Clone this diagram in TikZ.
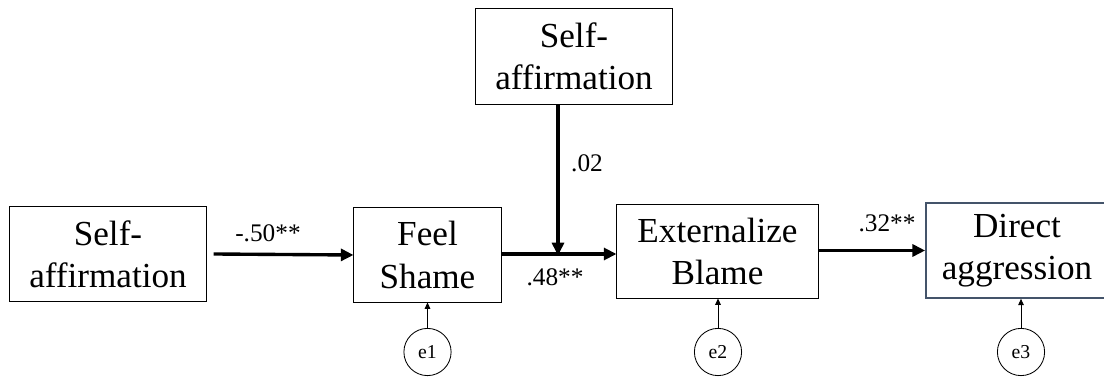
\documentclass[tikz,border=0pt]{standalone}
\usepackage{fontspec}
\setmainfont{Liberation Serif}
\usetikzlibrary{arrows.meta}
\usetikzlibrary{positioning}

\definecolor{slateedge}{RGB}{68,84,106}

\tikzset{
  varbox/.style={draw,line width=0.7pt,align=center,inner sep=0pt,font=\fontsize{25}{30}\selectfont},
  pathline/.style={line width=2.4pt,-{Triangle[length=9pt,width=8.5pt]}},
  errline/.style={line width=0.6pt,-{Triangle[length=4.5pt,width=4pt]}},
  errnode/.style={draw,circle,line width=0.6pt,minimum size=1.18cm,inner sep=0pt,font=\fontsize{14}{16}\selectfont},
  coef/.style={font=\fontsize{18}{20}\selectfont}
}

\begin{document}
\begin{tikzpicture}[x=0.025cm,y=-0.025cm]
\useasboundingbox (0,0) rectangle (1104,379);

% variables
\node[varbox,minimum width=4.9cm,minimum height=2.35cm] (sa) at (108,254) {Self-\\affirmation};
\node[varbox,minimum width=3.675cm,minimum height=2.35cm] (shame) at (427.5,255) {Feel\\Shame};
\node[varbox,minimum width=4.9cm,minimum height=2.375cm] (satop) at (574,56.5) {Self-\\affirmation};
\node[varbox,minimum width=5.025cm,minimum height=2.325cm] (blame) at (717.5,251.5) {Externalize\\Blame};
\node[varbox,draw=slateedge,line width=1.2pt,minimum width=4.55cm,minimum height=2.375cm] (aggr) at (1017,250.5) {Direct\\aggression};

% errors
\node[errnode] (e1) at (427.5,352) {e1};
\node[errnode] (e2) at (718,352) {e2};
\node[errnode] (e3) at (1021,352) {e3};

% paths
\coordinate (mod) at (558,254);
\draw[pathline] ([xshift=0.175cm]sa.east) -- (shame.west);
\draw[pathline] (shame.east |- mod) -- (blame.west |- mod);
\draw[pathline,shorten >=-1pt] (satop.south -| mod) -- (mod);
\draw[pathline] (blame.east |- aggr.west) -- (aggr.west);

\draw[errline] (e1) -- (shame);
\draw[errline] (e2) -- (e2 |- blame.south);
\draw[errline] (e3) -- (e3 |- aggr.south);

% coefficients
\node[coef] (c1) at (268,233) {-.50**};
\node[coef] (c2) at (587,163) {.02};
\node[coef] (c3) at (555,277) {.48**};
\node[coef] (c4) at (887,223) {.32**};

\end{tikzpicture}
\end{document}
